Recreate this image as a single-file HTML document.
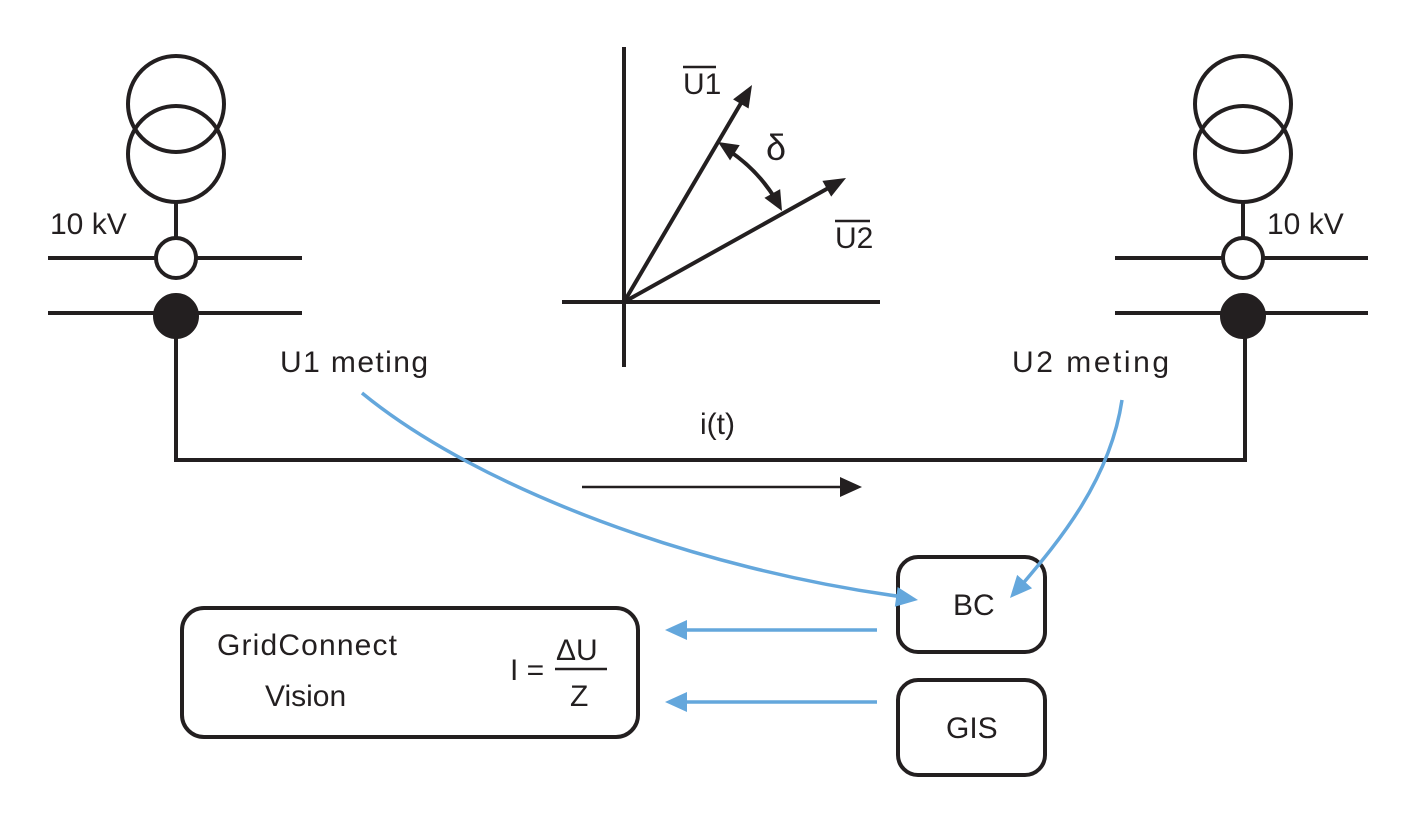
<!DOCTYPE html>
<html><head><meta charset="utf-8"><style>
html,body{margin:0;padding:0;background:#fff;}
svg{display:block;}
text{font-family:"Liberation Sans",sans-serif;fill:#231f20;}
</style></head><body>
<svg id="s" width="1417" height="827" viewBox="0 0 1417 827">
<g stroke="#231f20" stroke-width="4" fill="none">
<g>
<circle cx="176" cy="104" r="48"/><circle cx="176" cy="154" r="48"/>
<line x1="176" y1="202" x2="176" y2="238"/>
<circle cx="176" cy="258" r="20" fill="#fff"/>
<line x1="48" y1="258" x2="156" y2="258"/><line x1="196" y1="258" x2="302" y2="258"/>
<line x1="48" y1="313" x2="302" y2="313"/>
<circle cx="176" cy="316" r="21" fill="#231f20"/>
</g>
<g>
<circle cx="1243" cy="104" r="48"/><circle cx="1243" cy="154" r="48"/>
<line x1="1243" y1="202" x2="1243" y2="238"/>
<circle cx="1243" cy="258" r="20" fill="#fff"/>
<line x1="1115" y1="258" x2="1223" y2="258"/><line x1="1263" y1="258" x2="1368" y2="258"/>
<line x1="1115" y1="313" x2="1368" y2="313"/>
<circle cx="1243" cy="316" r="21" fill="#231f20"/>
</g>
<path d="M176,316 V460 H1245 V316"/>
<g>
<line x1="624" y1="47" x2="624" y2="367"/>
<line x1="562" y1="302" x2="880" y2="302"/>
<line x1="624" y1="302" x2="744" y2="98"/>
<line x1="624" y1="302" x2="832" y2="186"/>
<path d="M728,150 Q758,170 776,200"/>
</g>
<line x1="582" y1="487" x2="845" y2="487" stroke-width="2.5"/>
<rect x="898" y="557" width="147" height="95" rx="20"/>
<rect x="898" y="680" width="147" height="95" rx="20"/>
<rect x="182" y="608" width="456" height="129" rx="22"/>
<line x1="555" y1="669" x2="607" y2="669" stroke-width="2.5"/>
</g>
<g stroke="#64a7dc" stroke-width="3.5" fill="none">
<path d="M362,393 C480,490 700,570 904,597"/>
<path d="M1122,400 C1110,480 1060,540 1020,587"/>
<line x1="877" y1="630" x2="680" y2="630"/>
<line x1="877" y1="702" x2="680" y2="702"/>
</g>
<g id="heads"></g>
<g font-size="30">
<text x="50" y="234">10 kV</text>
<text x="1267" y="234">10 kV</text>
<text x="280" y="372" textLength="148">U1 meting</text>
<text x="1012" y="372" textLength="157">U2 meting</text>
<text x="700" y="434">i(t)</text>
<text x="683" y="94">U1</text>
<text x="835" y="248">U2</text>
<text x="766" y="160" font-size="36" font-family="Liberation Serif">δ</text>
<text x="953" y="615">BC</text>
<text x="946" y="738">GIS</text>
<text x="217" y="655" textLength="180">GridConnect</text>
<text x="265" y="706">Vision</text>
<text x="510" y="680">I =</text>
<text x="556" y="660">ΔU</text>
<text x="570" y="706">Z</text>
</g>
<g stroke="#231f20" stroke-width="2.5">
<line x1="683" y1="67" x2="716" y2="67"/>
<line x1="835" y1="221" x2="870" y2="221"/>
</g>
</svg>
<script>
var heads=document.getElementById('heads');
function head(tx,ty,fx,fy,col,len,w){
  var dx=tx-fx,dy=ty-fy,d=Math.hypot(dx,dy);dx/=d;dy/=d;
  var bx=tx-dx*len,by=ty-dy*len,px=-dy*w/2,py=dx*w/2;
  var p=document.createElementNS('http://www.w3.org/2000/svg','polygon');
  p.setAttribute('points',tx+','+ty+' '+(bx+px)+','+(by+py)+' '+(bx-px)+','+(by-py));
  p.setAttribute('fill',col);
  
  
  heads.appendChild(p);
}
var K='#231f20',B='#64a7dc';
head(752,85,624,302,K,22,18);
head(846,178,624,302,K,22,18);
head(718,142,740,156,K,20,18);
head(782,211,772,193,K,20,18);
head(862,487,582,487,K,22,20);
head(918,600,890,596,B,22,20);
head(1010,598,1026,580,B,22,20);
head(665,630,877,630,B,22,20);
head(665,702,877,702,B,22,20);
</script>
</body></html>
